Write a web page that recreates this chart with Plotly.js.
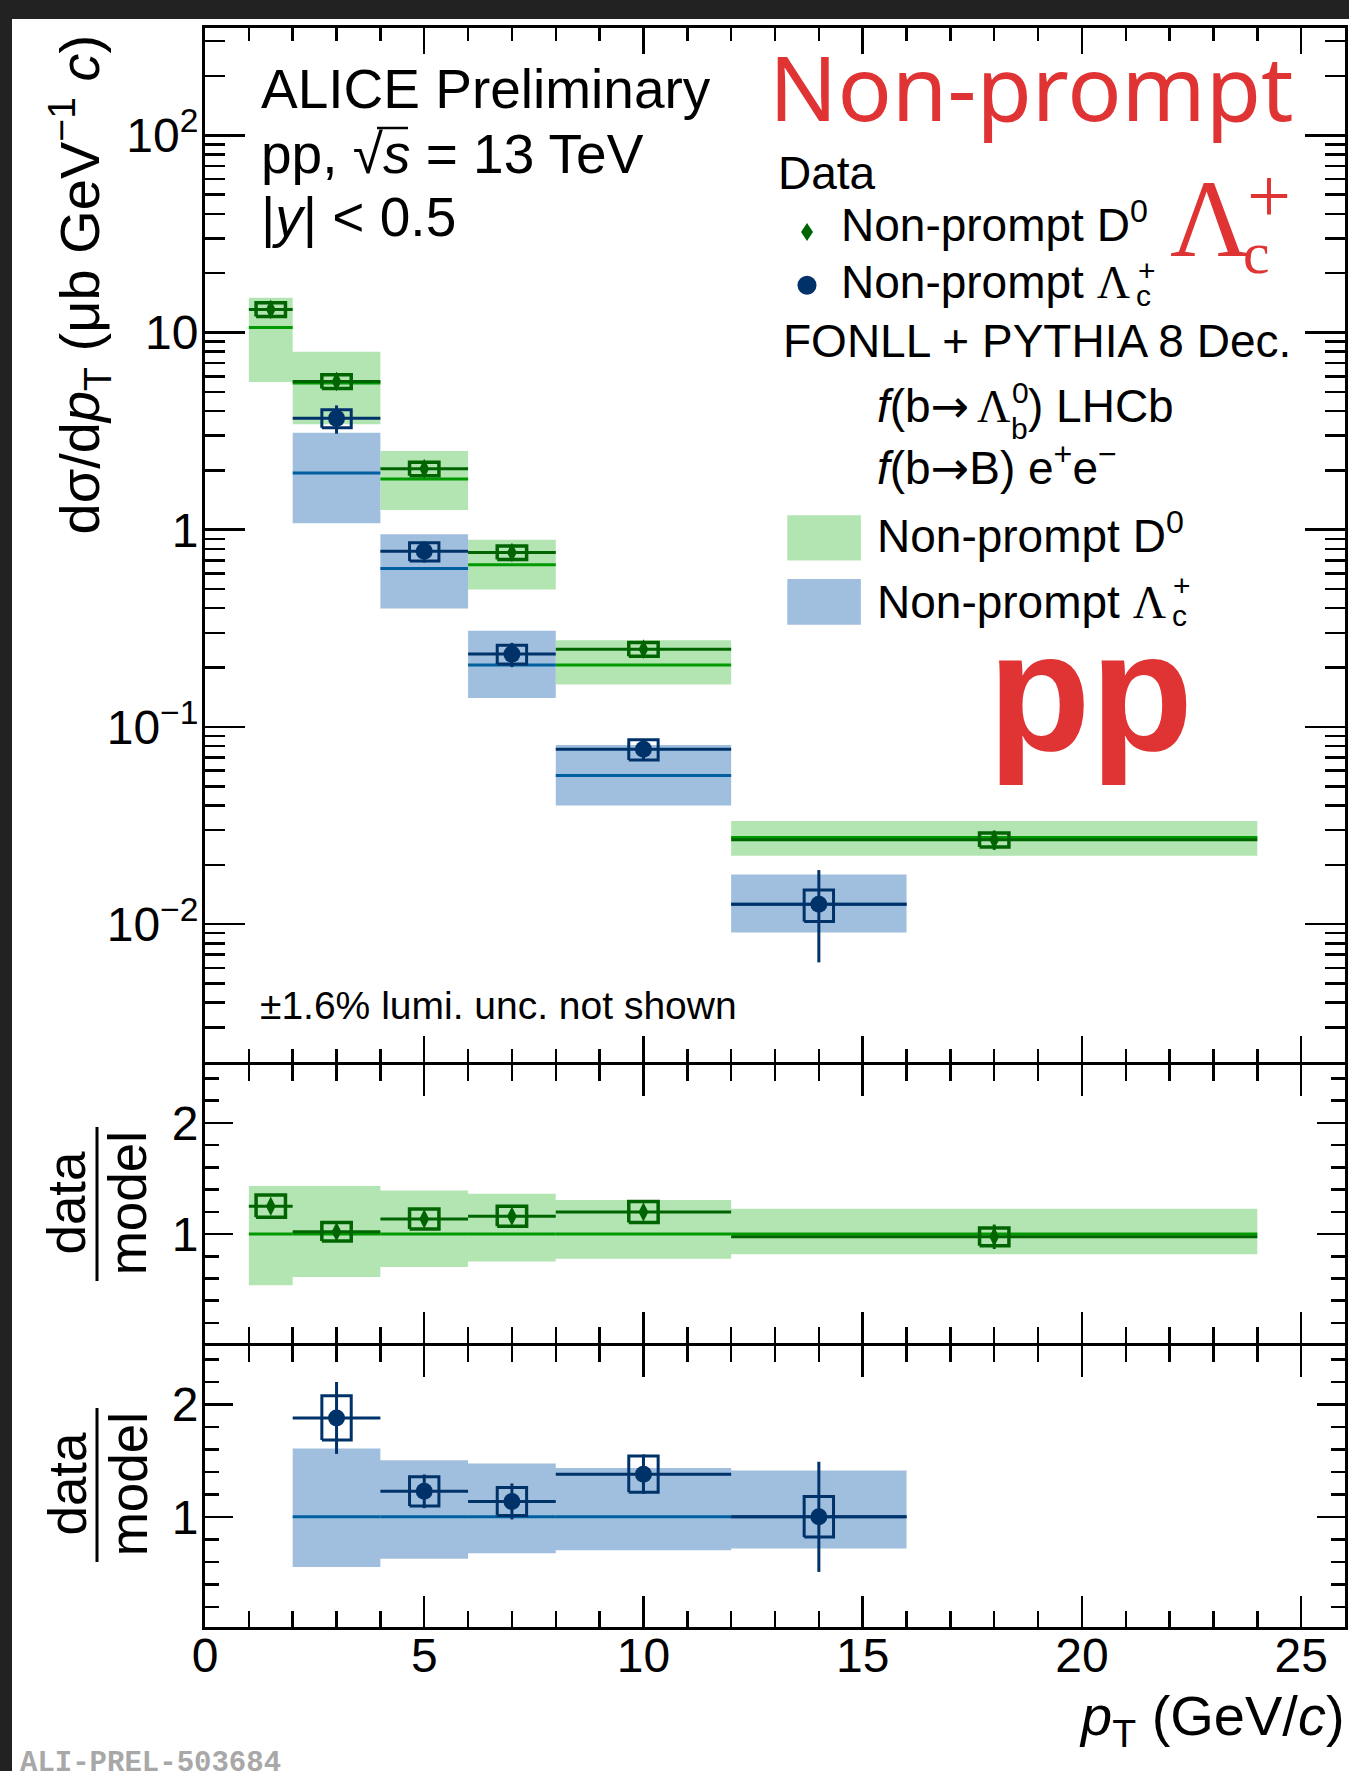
<!DOCTYPE html>
<html><head><meta charset="utf-8">
<script src="https://cdn.plot.ly/plotly-3.0.1.min.js"></script>
<style>
html,body{margin:0;padding:0;background:#222;width:1349px;height:1771px;overflow:hidden;}
#plot{position:absolute;left:12px;top:19px;width:1337px;height:1752px;background:#fff;}
</style></head><body><div id="plot"></div>
<script>
// ---------------- data ----------------
const d0BinLo = [1, 2, 4, 6, 8, 12];
const d0BinHi = [2, 4, 6, 8, 12, 24];
const d0Pt    = [1.5, 3, 5, 7, 10, 18];
const d0Val   = [13.1, 5.65, 2.04, 0.767, 0.248, 0.0268];
const d0Stat  = [0.3, 0.12, 0.05, 0.02, 0.006, 0.003];
const d0Syst  = [1.05, 0.45, 0.16, 0.06, 0.02, 0.0022];
const d0Model   = [10.6, 5.54, 1.81, 0.664, 0.206, 0.0275];
const d0ModelLo = [5.61, 3.43, 1.26, 0.497, 0.164, 0.0222];
const d0ModelHi = [15.0, 7.98, 2.51, 0.89, 0.275, 0.0333];

const lcBinLo = [2, 4, 6, 8, 12];
const lcBinHi = [4, 6, 8, 12, 16];
const lcPt    = [3, 5, 7, 10, 14];
const lcVal   = [3.67, 0.777, 0.234, 0.077, 0.0126];
const lcStat  = [0.6, 0.095, 0.033, 0.0098, 0.0062];
const lcSyst  = [0.385, 0.082, 0.0255, 0.009, 0.0023];
const lcModel   = [1.94, 0.635, 0.206, 0.0568, 0.0126];
const lcModelLo = [1.078, 0.399, 0.140, 0.040, 0.00906];
const lcModelHi = [3.10, 0.948, 0.307, 0.0809, 0.01788];

const d0Ratio      = [1.25, 1.02, 1.136, 1.16, 1.198, 0.975];
const d0RatioStat  = [0.03, 0.02, 0.02, 0.02, 0.02, 0.11];
const d0RatioSyst  = [0.1, 0.083, 0.09, 0.09, 0.095, 0.08];
const d0RatioModel = [1, 1, 1, 1, 1, 1];
const d0RatioLo    = [0.539, 0.613, 0.704, 0.754, 0.778, 0.819];
const d0RatioHi    = [1.432, 1.432, 1.391, 1.363, 1.305, 1.227];

const lcRatio      = [1.88, 1.227, 1.137, 1.38, 1.0];
const lcRatioStat  = [0.32, 0.15, 0.16, 0.175, 0.49];
const lcRatioSyst  = [0.197, 0.13, 0.124, 0.161, 0.18];
const lcRatioModel = [1, 1, 1, 1, 1];
const lcRatioLo    = [0.553, 0.628, 0.677, 0.702, 0.719];
const lcRatioHi    = [1.607, 1.504, 1.475, 1.434, 1.413];

const xTickVals = [0, 5, 10, 15, 20, 25];
const yMainTickVals = [0.01, 0.1, 1, 10, 100];
const yMainTickText = ['10<sup>−2</sup>', '10<sup>−1</sup>', '1', '10', '10<sup>2</sup>'];
const yRatioTickVals = [1, 2];
const yRatioTickText = ['1', '2'];

// ---------------- styles ----------------
const FONT = 'Liberation Sans, Arial, Helvetica, sans-serif';
const SERIF = 'Liberation Serif, Times New Roman, serif';
const RED = '#e03333';
const D0_DATA = '#006400', D0_MODEL = '#009a00', D0_BAND = '#b3e5b3';
const LC_DATA = '#00326a', LC_MODEL = '#005f9e', LC_BAND = '#a0bfde';
const BOX_HALF = 0.335;

function band(lo, hi, bl, bh, color, xa, ya) {
  const x = [], y = [];
  lo.forEach((l, i) => { x.push(l, hi[i], hi[i], l, l, null); y.push(bl[i], bl[i], bh[i], bh[i], bl[i], null); });
  return {type: 'scatter', mode: 'lines', x, y, xaxis: xa, yaxis: ya, fill: 'toself', fillcolor: color,
          line: {width: 0, color: color}, hoverinfo: 'skip', showlegend: false};
}
function segs(lo, hi, m, color, w, xa, ya) {
  const x = [], y = [];
  lo.forEach((l, i) => { x.push(l, hi[i], null); y.push(m[i], m[i], null); });
  return {type: 'scatter', mode: 'lines', x, y, xaxis: xa, yaxis: ya, line: {width: w, color}, hoverinfo: 'skip', showlegend: false};
}
function pts(pt, lo, hi, v, stat, color, symbol, size, xa, ya) {
  return {type: 'scatter', mode: 'markers', x: pt, y: v, xaxis: xa, yaxis: ya,
    marker: {symbol, size, color, line: {width: 0}},
    error_x: {type: 'data', symmetric: false, array: pt.map((p, i) => hi[i] - p), arrayminus: pt.map((p, i) => p - lo[i]), thickness: 3, width: 0, color},
    error_y: {type: 'data', array: stat, thickness: 3, width: 0, color},
    hoverinfo: 'skip', showlegend: false};
}
function boxes(pt, v, s, color, w, xa, ya) {
  const x = [], y = [];
  pt.forEach((p, i) => { const a = p - BOX_HALF, b = p + BOX_HALF, l = v[i] - s[i], h = v[i] + s[i];
    x.push(a, b, b, a, a, null); y.push(l, l, h, h, l, null); });
  return {type: 'scatter', mode: 'lines', x, y, xaxis: xa, yaxis: ya, line: {width: w, color}, hoverinfo: 'skip', showlegend: false};
}

const traces = [
  // main panel
  band(d0BinLo, d0BinHi, d0ModelLo, d0ModelHi, D0_BAND, 'x', 'y'),
  band(lcBinLo, lcBinHi, lcModelLo, lcModelHi, LC_BAND, 'x', 'y'),
  segs(d0BinLo, d0BinHi, d0Model, D0_MODEL, 3, 'x', 'y'),
  segs(lcBinLo, lcBinHi, lcModel, LC_MODEL, 3, 'x', 'y'),
  pts(d0Pt, d0BinLo, d0BinHi, d0Val, d0Stat, D0_DATA, 'diamond-tall', 14, 'x', 'y'),
  pts(lcPt, lcBinLo, lcBinHi, lcVal, lcStat, LC_DATA, 'circle', 17, 'x', 'y'),
  boxes(d0Pt, d0Val, d0Syst, D0_DATA, 3.5, 'x', 'y'),
  boxes(lcPt, lcVal, lcSyst, LC_DATA, 3, 'x', 'y'),
  // ratio D0
  band(d0BinLo, d0BinHi, d0RatioLo, d0RatioHi, D0_BAND, 'x2', 'y2'),
  segs(d0BinLo, d0BinHi, d0RatioModel, D0_MODEL, 3, 'x2', 'y2'),
  pts(d0Pt, d0BinLo, d0BinHi, d0Ratio, d0RatioStat, D0_DATA, 'diamond-tall', 14, 'x2', 'y2'),
  boxes(d0Pt, d0Ratio, d0RatioSyst, D0_DATA, 3.5, 'x2', 'y2'),
  // ratio Lc
  band(lcBinLo, lcBinHi, lcRatioLo, lcRatioHi, LC_BAND, 'x3', 'y3'),
  segs(lcBinLo, lcBinHi, lcRatioModel, LC_MODEL, 3, 'x3', 'y3'),
  pts(lcPt, lcBinLo, lcBinHi, lcRatio, lcRatioStat, LC_DATA, 'circle', 17, 'x3', 'y3'),
  boxes(lcPt, lcRatio, lcRatioSyst, LC_DATA, 3, 'x3', 'y3'),
];

// ---------------- geometry helpers (image pixels -> paper) ----------------
const PX0 = 205, PW = 1140, PY1 = 1627, PH = 1599;
const px = X => (X - PX0) / PW;
const py = Y => (PY1 - Y) / PH;

function xAxis(anchor, len, mlen, labels) {
  return {range: [0, 26], anchor, showline: true, linecolor: '#000', linewidth: 3, mirror: 'ticks',
    ticks: 'inside', ticklen: len, tickwidth: 2.5, tickcolor: '#000',
    tickmode: 'array', tickvals: xTickVals, ticktext: xTickVals.map(String), showticklabels: labels,
    ticklabelstandoff: -16,
    tickfont: {family: FONT, size: 48, color: '#000'}, showgrid: false, zeroline: false,
    minor: {ticks: 'inside', ticklen: mlen, tickwidth: 2.5, tickcolor: '#000', tickmode: 'linear', tick0: 0, dtick: 1, showgrid: false},
    fixedrange: true};
}
const logMinor = [];
for (let e = -3; e <= 2; e++) for (let k = 2; k <= 9; k++) logMinor.push(k * Math.pow(10, e));
const ratioMinor = [0.2, 0.4, 0.6, 0.8, 1.2, 1.4, 1.6, 1.8, 2.2, 2.4];

function yRatio(dom, anchor) {
  return {domain: dom, anchor, range: [0.02, 2.52], showline: true, linecolor: '#000', linewidth: 3, mirror: 'ticks',
    ticks: 'inside', ticklen: 28, tickwidth: 2.5, tickcolor: '#000', tickmode: 'array', tickvals: yRatioTickVals, ticktext: yRatioTickText,
    ticklabelstandoff: -6,
    tickfont: {family: FONT, size: 48, color: '#000'}, showgrid: false, zeroline: false,
    minor: {ticks: 'inside', ticklen: 14, tickwidth: 2.5, tickcolor: '#000', tickmode: 'array', tickvals: ratioMinor, showgrid: false},
    fixedrange: true};
}

// panel boundaries overlap by one line width so that shared frame lines coincide
const dMain = [py(1062), 1], dR1 = [py(1343), py(1065)], dR2 = [0, py(1346)];

function T(text, X, Y, size, opts) {
  return Object.assign({text, x: px(X), y: py(Y), xref: 'paper', yref: 'paper', showarrow: false,
    xanchor: 'left', yanchor: 'middle', font: {family: FONT, size, color: '#000'}}, opts || {});
}
const LF = 46;
const ARROW = '<span style="font-family:DejaVu Sans">→</span>';
const LAMBDA = '<span style="font-family:Liberation Serif">Λ</span>';
const annotations = [
  T('ALICE Preliminary', 259, 89, 55),
  T('pp, √<i>s</i> = 13 TeV', 259, 154, 55),
  T('|<i>y</i>| &lt; 0.5', 259, 217, 55),
  T('Non-prompt', 767, 86.4, 90, {font: {family: 'Noto Sans, sans-serif', size: 90, color: RED}}),
  T('Λ', 1168, 219, 110, {font: {family: SERIF, size: 110, color: RED}}),
  T('c', 1241, 252.8, 60, {font: {family: SERIF, size: 60, color: RED}}),
  T('+', 1269, 196, 78, {xanchor: 'center', font: {family: SERIF, size: 78, color: RED}}),
  T('pp', 986, 691.8, 168, {font: {family: FONT, size: 168, color: RED, weight: 'bold'}}),
  T('Data', 776, 173, LF),
  T('Non-prompt D<sup>0</sup>', 839, 222.1, LF),
  T('Non-prompt ' + LAMBDA, 839, 282, LF),
  T('c', 1134, 295.6, 30),
  T('+', 1136, 270, 30),
  T('FONLL + PYTHIA 8 Dec.', 781, 341.4, LF),
  T('<i>f</i>(b' + ARROW, 875, 406, LF),
  T('Λ', 975, 406, LF, {font: {family: SERIF, size: LF, color: '#000'}}),
  T('b', 1009, 428.6, 30),
  T('0', 1010, 392, 30),
  T(') LHCb', 1026, 406, LF),
  T('<i>f</i>(b' + ARROW + 'B) e<sup>+</sup>e<sup>−</sup>', 875, 465.7, LF),
  T('Non-prompt D<sup>0</sup>', 875, 532.7, LF),
  T('Non-prompt ' + LAMBDA, 875, 601.7, LF),
  T('c', 1170, 615.6, 30),
  T('+', 1171, 586, 30),
  T('±1.6% lumi. unc. not shown', 258, 1005.5, 39),
  T('dσ/d<i>p</i><sub>T</sub> (μb GeV<sup>−1</sup> <i>c</i>)', 80, 284.5, 56, {xanchor: 'center', textangle: -90}),
  T('data', 66.6, 1203, 53, {xanchor: 'center', textangle: -90}),
  T('model', 128.3, 1203, 53, {xanchor: 'center', textangle: -90}),
  T('data', 66.6, 1484, 53, {xanchor: 'center', textangle: -90}),
  T('model', 128.3, 1484, 53, {xanchor: 'center', textangle: -90}),
  T('<i>p</i><sub>T</sub> (GeV/<i>c</i>)', 1347, 1719.5, 56, {xanchor: 'right'}),
  T('ALI-PREL-503684', 18, 1763, 29, {font: {family: 'Liberation Mono, Courier New, monospace', size: 29, color: '#a8a8a8', weight: 'bold'}}),
];

function P(pairs) { return 'M ' + pairs.map(p => px(p[0]) + ',' + py(p[1])).join(' L ') + ' Z'; }
const shapes = [
  {type: 'path', xref: 'paper', yref: 'paper', path: P([[807, 223], [813, 232], [807, 241], [801, 232]]), fillcolor: D0_DATA, line: {width: 0}},
  {type: 'circle', xref: 'paper', yref: 'paper', x0: px(797.5), x1: px(816.5), y0: py(294.7), y1: py(275.7), fillcolor: LC_DATA, line: {width: 0}},
  {type: 'rect', xref: 'paper', yref: 'paper', x0: px(787.3), x1: px(860.9), y0: py(560.4), y1: py(515.2), fillcolor: D0_BAND, line: {width: 0}},
  {type: 'rect', xref: 'paper', yref: 'paper', x0: px(787.3), x1: px(860.9), y0: py(624.7), y1: py(579), fillcolor: LC_BAND, line: {width: 0}},
  {type: 'line', xref: 'paper', yref: 'paper', x0: px(97), x1: px(97), y0: py(1127), y1: py(1281), line: {width: 3, color: '#000'}},
  {type: 'line', xref: 'paper', yref: 'paper', x0: px(97), x1: px(97), y0: py(1408), y1: py(1562), line: {width: 3, color: '#000'}},
  // overline of the square root
  {type: 'line', xref: 'paper', yref: 'paper', x0: px(377), x1: px(408), y0: py(128), y1: py(128), line: {width: 2.5, color: '#000'}},
];

const layout = {
  width: 1337, height: 1752, margin: {l: 193, r: 4, t: 9, b: 144},
  paper_bgcolor: '#fff', plot_bgcolor: 'rgba(0,0,0,0)', showlegend: false,
  font: {family: FONT, color: '#000'},
  xaxis: xAxis('y', 26, 13, false),
  xaxis2: Object.assign(xAxis('y2', 31, 16, false), {matches: 'x'}),
  xaxis3: Object.assign(xAxis('y3', 31, 16, true), {matches: 'x'}),
  yaxis: {domain: dMain, anchor: 'x', type: 'log', range: [Math.log10(0.002), Math.log10(350)],
    showline: true, linecolor: '#000', linewidth: 3, mirror: 'ticks', ticks: 'inside', ticklen: 40, tickwidth: 2.5, tickcolor: '#000',
    tickmode: 'array', tickvals: yMainTickVals, ticktext: yMainTickText, tickfont: {family: FONT, size: 48, color: '#000'},
    ticklabelstandoff: -6,
    showgrid: false, zeroline: false,
    minor: {ticks: 'inside', ticklen: 20, tickwidth: 2.5, tickcolor: '#000', tickmode: 'array', tickvals: logMinor, showgrid: false},
    fixedrange: true},
  yaxis2: yRatio(dR1, 'x2'),
  yaxis3: yRatio(dR2, 'x3'),
  annotations, shapes,
};

Plotly.newPlot('plot', traces, layout, {staticPlot: true, displayModeBar: false});
</script></body></html>
